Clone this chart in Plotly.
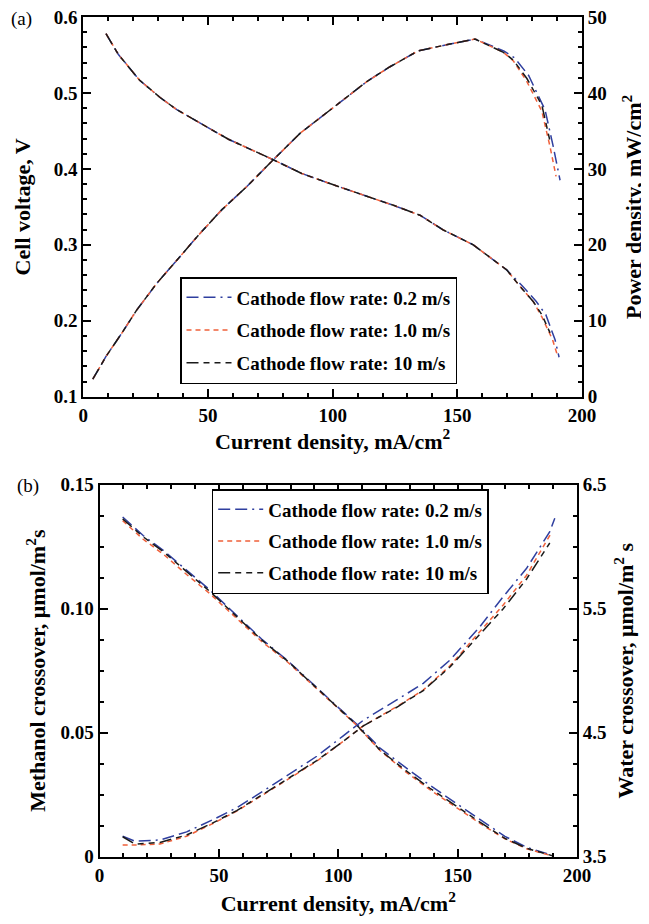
import plotly.graph_objects as go

# ---------------- data: panel (a) ----------------
series_names = ["Cathode flow rate: 0.2 m/s", "Cathode flow rate: 1.0 m/s", "Cathode flow rate: 10 m/s"]

v_i_02 = [9.1, 14, 22.5, 30.8, 37.5, 52.8, 58.2, 76.2, 87.6, 100.3, 115, 124.4, 135, 144.4, 156.4, 161.8, 169.8, 176, 181.5, 185.5, 189.2, 190.8]
v_02 = [0.578, 0.551, 0.517, 0.494, 0.478, 0.449, 0.439, 0.412, 0.394, 0.379, 0.363, 0.352, 0.339, 0.3195, 0.300, 0.287, 0.267, 0.246, 0.226, 0.208, 0.175, 0.152]
v_i_10 = [9.1, 14, 22.5, 30.8, 37.5, 52.8, 58.2, 76.2, 87.6, 100.3, 115, 124.4, 135, 144.4, 156.4, 161.8, 169.8, 175.2, 180.5, 183.9, 188.2, 189.9]
v_10 = [0.578, 0.551, 0.517, 0.494, 0.478, 0.449, 0.439, 0.412, 0.394, 0.379, 0.363, 0.352, 0.339, 0.3195, 0.300, 0.287, 0.267, 0.245, 0.225, 0.205, 0.175, 0.157]
v_i_100 = [9.1, 14, 22.5, 30.8, 37.5, 52.8, 58.2, 76.2, 87.6, 100.3, 115, 124.4, 135, 144.4, 156.4, 161.8, 169.8, 175.2, 180.5, 183.9, 187.2]
v_100 = [0.578, 0.551, 0.517, 0.494, 0.478, 0.449, 0.439, 0.412, 0.394, 0.379, 0.363, 0.352, 0.339, 0.3195, 0.300, 0.287, 0.267, 0.245, 0.225, 0.208, 0.184]

p_i_02 = [3.8, 9.1, 15.4, 21.4, 29.4, 37.5, 46.8, 55.5, 65.5, 76.2, 87, 99, 113.7, 123, 134.4, 147.1, 157.1, 168.8, 173, 178.6, 185.2, 188.5, 191.2]
p_02 = [2.3, 5.3, 8.35, 11.4, 14.9, 18.0, 21.5, 24.6, 27.65, 31.2, 34.7, 37.75, 41.5, 43.45, 45.56, 46.44, 47.1, 45.5, 44.6, 42.3, 37.75, 32.9, 28.5]
p_i_10 = [3.8, 9.1, 15.4, 21.4, 29.4, 37.5, 46.8, 55.5, 65.5, 76.2, 87, 99, 113.7, 123, 134.4, 147.1, 157.1, 168.5, 172.5, 177.9, 183.9, 187.2, 189.6]
p_10 = [2.3, 5.3, 8.35, 11.4, 14.9, 18.0, 21.5, 24.6, 27.65, 31.2, 34.7, 37.75, 41.5, 43.45, 45.56, 46.44, 47.1, 45.35, 44.2, 41.5, 37.6, 32.9, 29.0]
p_i_100 = [3.8, 9.1, 15.4, 21.4, 29.4, 37.5, 46.8, 55.5, 65.5, 76.2, 87, 99, 113.7, 123, 134.4, 147.1, 157.1, 168.5, 172.5, 177.9, 183.9, 187.2]
p_100 = [2.3, 5.3, 8.35, 11.4, 14.9, 18.0, 21.5, 24.6, 27.65, 31.2, 34.7, 37.75, 41.5, 43.45, 45.56, 46.44, 47.1, 45.35, 44.3, 41.9, 38.4, 33.6]

# ---------------- data: panel (b) ----------------
m_i = [9.7, 18.3, 26.7, 36.5, 46.3, 57.5, 67.9, 79.1, 89.5, 99.3, 107.7, 117.5, 127.9, 138.4, 149.6, 160, 169.8, 178.9, 190]
m_02 = [0.137, 0.1295, 0.1235, 0.1155, 0.1075, 0.0972, 0.0878, 0.0788, 0.0694, 0.0608, 0.0535, 0.0438, 0.0362, 0.0288, 0.0214, 0.0146, 0.0082, 0.0038, 0.0004]
m_10 = [0.1355, 0.128, 0.122, 0.1138, 0.106, 0.096, 0.0868, 0.0782, 0.069, 0.0603, 0.053, 0.0428, 0.0345, 0.027, 0.0198, 0.013, 0.0072, 0.0032, 0.0002]
m_100 = [0.1362, 0.129, 0.123, 0.1149, 0.1069, 0.0968, 0.0874, 0.0786, 0.0692, 0.0605, 0.0531, 0.043, 0.035, 0.0276, 0.0202, 0.0135, 0.0074, 0.0034, 0.0003]

w_i_02 = [9.7, 14.9, 25.3, 36.5, 47.7, 57.5, 68.6, 79.8, 91, 102.1, 110.5, 124.5, 135.6, 146.8, 159.3, 169.1, 178.9, 188.6, 190.7]
w_02 = [3.665, 3.625, 3.635, 3.7, 3.8, 3.895, 4.03, 4.17, 4.31, 4.475, 4.6, 4.764, 4.898, 5.086, 5.354, 5.597, 5.826, 6.121, 6.229]
w_i_10 = [9.7, 14.9, 25.3, 36.5, 47.7, 57.5, 68.6, 79.8, 91, 102.1, 110.5, 124.5, 135.6, 146.8, 159.3, 169.1, 178.9, 188.7]
w_10 = [3.594, 3.594, 3.602, 3.665, 3.77, 3.868, 4.0, 4.135, 4.27, 4.43, 4.556, 4.71, 4.844, 5.04, 5.31, 5.53, 5.77, 6.094]
w_i_100 = [9.7, 14.9, 25.3, 36.5, 47.7, 57.5, 68.6, 79.8, 91, 102.1, 110.5, 124.5, 135.6, 146.8, 159.3, 169.1, 178.9, 188.6]
w_100 = [3.661, 3.602, 3.615, 3.675, 3.775, 3.872, 4.005, 4.14, 4.275, 4.43, 4.555, 4.705, 4.84, 5.03, 5.29, 5.5, 5.74, 6.03]

# ---------------- styles ----------------
colors = ["#2f3f9f", "#f0603a", "#1a1a1a"]
dashes = ["12px,5px,12px,5px,2px,5px", "5px,4px", "12px,5px,6px,5px,6px,5px"]
FONT = "Liberation Serif"

fig = go.Figure()

top_v = [(v_i_02, v_02), (v_i_10, v_10), (v_i_100, v_100)]
top_p = [(p_i_02, p_02), (p_i_10, p_10), (p_i_100, p_100)]
bot_m = [(m_i, m_02), (m_i, m_10), (m_i, m_100)]
bot_w = [(w_i_02, w_02), (w_i_10, w_10), (w_i_100, w_100)]

for k in range(3):
    line = dict(color=colors[k], width=1.5, dash=dashes[k])
    fig.add_trace(go.Scatter(x=top_v[k][0], y=top_v[k][1], mode="lines", line=line, legendgroup="a%d" % k,
                             name=series_names[k], legend="legend", xaxis="x", yaxis="y"))
for k in range(3):
    line = dict(color=colors[k], width=1.5, dash=dashes[k])
    fig.add_trace(go.Scatter(x=top_p[k][0], y=top_p[k][1], mode="lines", line=line, legendgroup="a%d" % k,
                             name=series_names[k], showlegend=False, legend="legend", xaxis="x", yaxis="y2"))
for k in range(3):
    line = dict(color=colors[k], width=1.5, dash=dashes[k])
    fig.add_trace(go.Scatter(x=bot_m[k][0], y=bot_m[k][1], mode="lines", line=line, legendgroup="b%d" % k,
                             name=series_names[k], legend="legend2", xaxis="x2", yaxis="y3"))
for k in range(3):
    line = dict(color=colors[k], width=1.5, dash=dashes[k])
    fig.add_trace(go.Scatter(x=bot_w[k][0], y=bot_w[k][1], mode="lines", line=line, legendgroup="b%d" % k,
                             name=series_names[k], showlegend=False, legend="legend2", xaxis="x2", yaxis="y4"))

tickfont = dict(family=FONT, size=19, color="black", weight="bold")
titlefont = dict(family=FONT, size=22, color="black", weight="bold")

def axis_common():
    return dict(showline=True, linewidth=2, linecolor="black", ticks="inside", ticklen=8,
                tickwidth=1.5, tickcolor="black", showgrid=False, zeroline=False,
                tickfont=tickfont, automargin=False, ticklabeloverflow="allow")

def minor(dt, t0):
    return dict(dtick=dt, tick0=t0, ticklen=4, ticks="inside", tickcolor="black", tickwidth=1.5)

# page body has an 8px margin, so the figure is made 8px smaller and coordinates shifted
OFF = 8
W, H = 649 - OFF, 924 - OFF
def fx(px):
    return (px - OFF) / W
def fy(py):
    return 1 - (py - OFF) / H

xa = axis_common(); xa.update(domain=[fx(83.3), fx(582)], anchor="y", range=[0, 200], dtick=50, tick0=0,
    mirror="ticks", minor=minor(10, 0),
    title=dict(text="Current density, mA/cm<sup>2</sup>", font=titlefont, standoff=1))
ya = axis_common(); ya.update(domain=[fy(396.7), fy(17)], anchor="x", range=[0.1, 0.6], dtick=0.1, tick0=0.1,
    tickformat=".1f", minor=minor(0.02, 0.1),
    title=dict(text="Cell voltage, V", font=titlefont, standoff=17))
ya2 = axis_common(); ya2.update(overlaying="y", side="right", anchor="x", range=[0, 50], dtick=10, tick0=0,
    minor=minor(2, 0),
    title=dict(text="Power density, mW/cm<sup>2</sup>", font=titlefont, standoff=20))

xb = axis_common(); xb.update(domain=[fx(99.5), fx(577)], anchor="y3", range=[0, 200], dtick=50, tick0=0,
    mirror="ticks", minor=minor(10, 0),
    title=dict(text="Current density, mA/cm<sup>2</sup>", font=titlefont, standoff=11))
yb = axis_common(); yb.update(domain=[fy(856.7), fy(484.7)], anchor="x2", range=[0, 0.15], dtick=0.05, tick0=0,
    tickformat=".2f", labelalias={"0.00": "0"}, minor=minor(0.0125, 0),
    title=dict(text="Methanol crossover, μmol/m<sup>2</sup>s", font=titlefont, standoff=9))
yb2 = axis_common(); yb2.update(overlaying="y3", side="right", anchor="x2", range=[3.5, 6.5], dtick=1, tick0=3.5,
    tickformat=".1f", minor=minor(0.25, 3.5),
    title=dict(text="Water crossover, μmol/m<sup>2</sup> s", font=titlefont, standoff=12))

legfont = dict(family=FONT, size=19, color="black", weight="bold")
fig.update_layout(
    width=W, height=H, margin=dict(l=0, r=0, t=0, b=0, autoexpand=False),
    paper_bgcolor="white", plot_bgcolor="white",
    xaxis=xa, yaxis=ya, yaxis2=ya2, xaxis2=xb, yaxis3=yb, yaxis4=yb2,
    legend=dict(x=fx(180), y=fy(277), xanchor="left", yanchor="top", bgcolor="white",
                bordercolor="black", borderwidth=1.5, font=legfont, itemwidth=45, tracegroupgap=5),
    legend2=dict(x=fx(211.7), y=fy(489), xanchor="left", yanchor="top", bgcolor="white",
                 bordercolor="black", borderwidth=1.5, font=legfont, itemwidth=45, tracegroupgap=4),
    annotations=[
        dict(text="(a)", x=fx(9), y=fy(19), xref="paper", yref="paper", xanchor="left", yanchor="middle",
             showarrow=False, font=dict(family=FONT, size=19, color="black")),
        dict(text="(b)", x=fx(15), y=fy(486), xref="paper", yref="paper", xanchor="left", yanchor="middle",
             showarrow=False, font=dict(family=FONT, size=19, color="black")),
    ],
)

fig.write_html("out.html")
